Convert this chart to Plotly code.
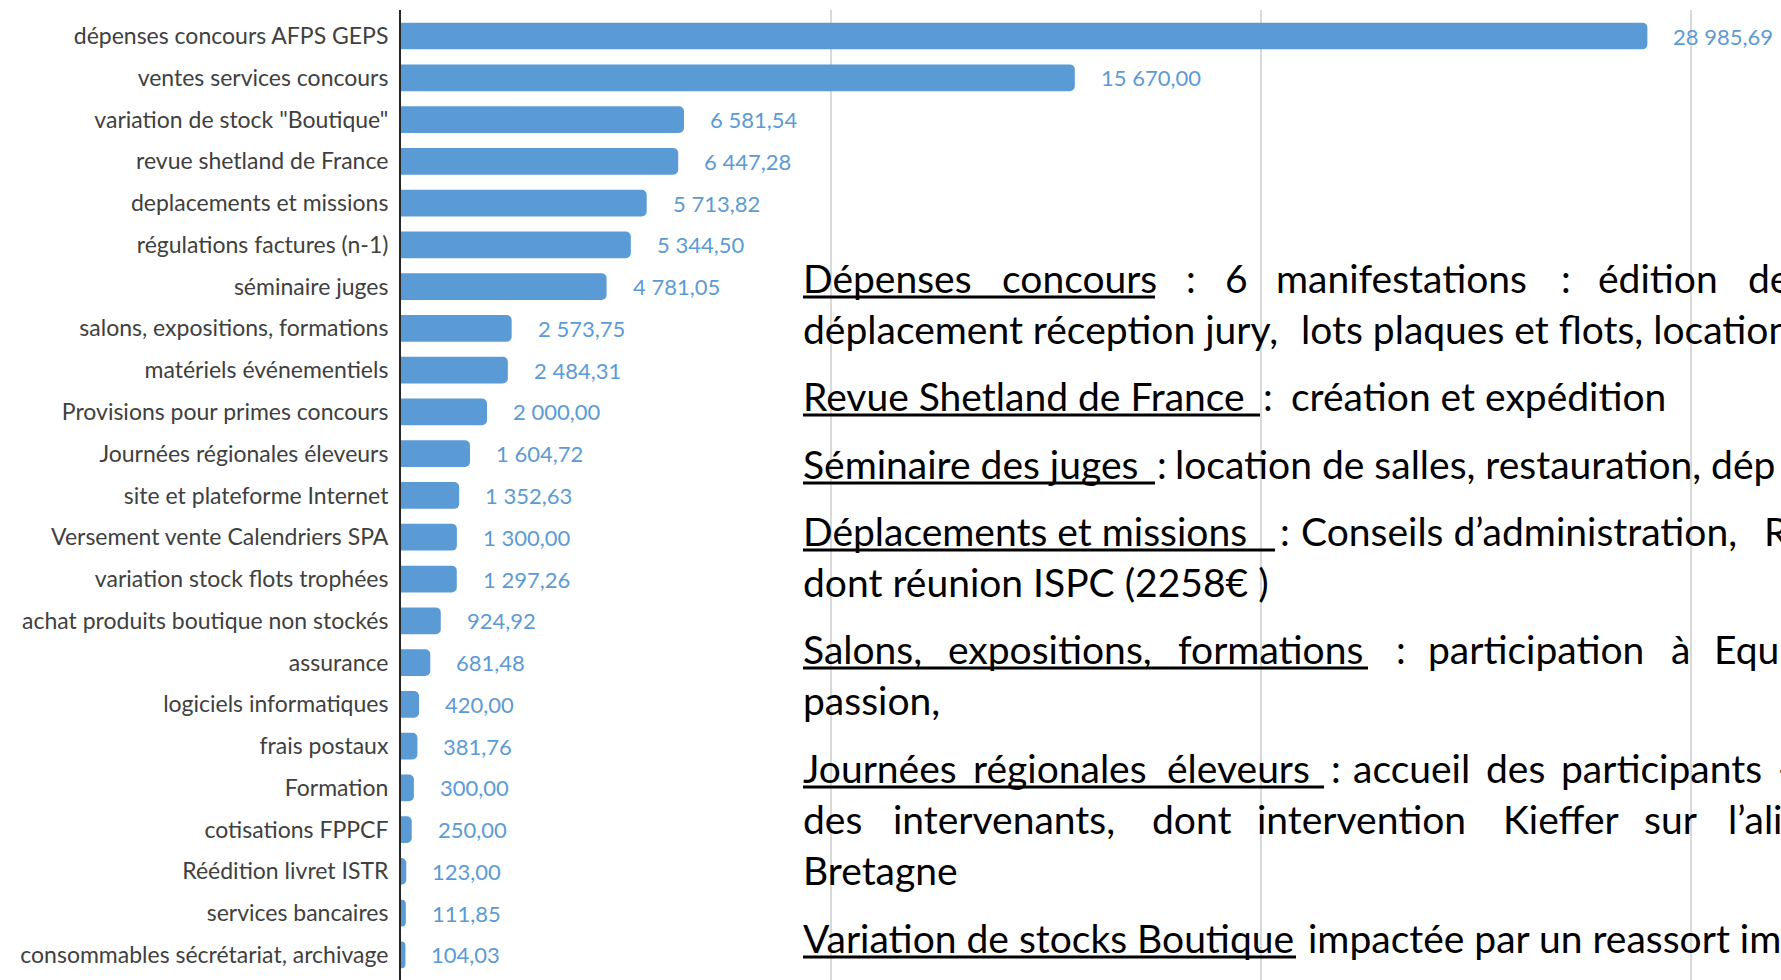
import plotly.graph_objects as go

# ---------------- data ----------------
categories = [
    "dépenses concours AFPS GEPS",
    "ventes services concours",
    'variation de stock "Boutique"',
    "revue shetland de France",
    "deplacements et missions",
    "régulations factures (n-1)",
    "séminaire juges",
    "salons, expositions, formations",
    "matériels événementiels",
    "Provisions pour primes concours",
    "Journées régionales éleveurs",
    "site et plateforme Internet",
    "Versement vente Calendriers SPA",
    "variation stock flots trophées",
    "achat produits boutique non stockés",
    "assurance",
    "logiciels informatiques",
    "frais postaux",
    "Formation",
    "cotisations FPPCF",
    "Réédition livret ISTR",
    "services bancaires",
    "consommables sécrétariat, archivage",
]
values = [
    28985.69, 15670.00, 6581.54, 6447.28, 5713.82, 5344.50, 4781.05,
    2573.75, 2484.31, 2000.00, 1604.72, 1352.63, 1300.00, 1297.26,
    924.92, 681.48, 420.00, 381.76, 300.00, 250.00, 123.00, 111.85, 104.03,
]
grid_ticks = [10000, 20000, 30000]

# ---------------- layout constants ----------------
W, H = 1781, 980
ML, MR, MT, MB = 401, 0, 10, 0
PW, PH = W - ML - MR, H - MT - MB
PX_PER_UNIT = 0.0430
X_MAX = PW / PX_PER_UNIT
ROW = 41.77
FIRST_CENTER = 36
Y_TOP = -(FIRST_CENTER - MT) / ROW
Y_BOT = Y_TOP + PH / ROW

BAR_COLOR = "#5B9BD5"
VAL_COLOR = "#5B9BD5"
CAT_COLOR = "#404040"
FONT = "Lato"
FS_BODY = 39
FS_CAT = 23
FS_VAL = 22


def px(x):
    return (x - ML) / PW


def py(y):
    return 1 - (y - MT) / PH


def fr(v):
    return f"{v:,.2f}".replace(",", " ").replace(".", ",")


fig = go.Figure(
    go.Bar(
        x=values,
        y=categories,
        orientation="h",
        marker=dict(color=BAR_COLOR, cornerradius=5, line=dict(width=0)),
        hoverinfo="skip",
    )
)

annotations = []
for c, v in zip(categories, values):
    annotations.append(dict(
        x=v, y=c, xref="x", yref="y", text=fr(v), showarrow=False,
        xanchor="left", yanchor="middle", xshift=24,
        font=dict(family=FONT, size=FS_VAL, color=VAL_COLOR),
    ))

# ---------------- explanatory text (right side) ----------------
# each line: baseline y (px), list of (text, x start px)
note_lines = [
    (292, [("Dépenses", 803), ("concours", 1002), (":", 1186), ("6", 1225),
           ("manifestations", 1276), (":", 1561), ("édition", 1598), ("de", 1748)]),
    (343, [("déplacement réception jury,", 803), ("lots plaques et flots, location", 1301)]),
    (410, [("Revue Shetland de France", 803), (":", 1263), ("création et expédition", 1291)]),
    (478, [("Séminaire des juges", 803), (":", 1157),
           ("location de salles, restauration, dép", 1175)]),
    (545, [("Déplacements et missions", 803), (":", 1280),
           ("Conseils d’administration,", 1301), ("R", 1764)]),
    (596, [("dont réunion ISPC (2258€ )", 803)]),
    (663, [("Salons,", 803), ("expositions,", 948), ("formations", 1178), (":", 1396),
           ("participation", 1428), ("à", 1671), ("Equ", 1714)]),
    (714, [("passion,", 803)]),
    (782, [("Journées", 803), ("régionales", 973), ("éleveurs", 1167), (":", 1331),
           ("accueil", 1353), ("des", 1486), ("participants", 1561), ("-", 1778)]),
    (833, [("des", 803), ("intervenants,", 893), ("dont", 1152), ("intervention", 1257),
           ("Kieffer", 1503), ("sur", 1644), ("l’ali", 1728)]),
    (884, [("Bretagne", 803)]),
    (952, [("Variation de stocks Boutique", 803), ("impactée par un reassort im", 1308)]),
]
underlines = [(292, 803, 1155), (410, 803, 1260), (478, 803, 1155), (545, 803, 1275),
              (663, 803, 1368), (782, 803, 1324), (952, 803, 1296)]

for base, segs in note_lines:
    yc = base - 0.36 * FS_BODY
    for txt, x0 in segs:
        annotations.append(dict(
            x=px(x0), y=py(yc), xref="paper", yref="paper", text=txt,
            showarrow=False, xanchor="left", yanchor="middle", borderpad=0,
            xshift=-1,
            font=dict(family=FONT, size=FS_BODY, color="#000000"),
        ))

shapes = []
for base, x0, x1 in underlines:
    shapes.append(dict(type="line", xref="paper", yref="paper",
                       x0=px(x0), x1=px(x1), y0=py(base + 5), y1=py(base + 5),
                       line=dict(color="#000000", width=3)))

fig.update_layout(
    width=W, height=H,
    margin=dict(l=ML, r=MR, t=MT, b=MB, pad=0),
    paper_bgcolor="white", plot_bgcolor="white",
    showlegend=False,
    bargap=0.36,
    annotations=annotations,
    shapes=shapes,
    xaxis=dict(
        range=[0, X_MAX], tickvals=grid_ticks, showticklabels=False,
        showgrid=True, gridcolor="#D9D9D9", gridwidth=2,
        zeroline=False, showline=False, fixedrange=True,
    ),
    yaxis=dict(
        type="category", categoryorder="array", categoryarray=categories,
        range=[Y_BOT, Y_TOP], showgrid=False, zeroline=False,
        showline=True, linecolor="#262626", linewidth=2,
        ticks="", ticklabelstandoff=6,
        tickfont=dict(family=FONT, size=FS_CAT, color=CAT_COLOR),
        fixedrange=True,
    ),
)

fig.write_html(
    "out.html",
    config={"displayModeBar": False, "staticPlot": True},
    post_script="document.body.style.margin='0';document.body.style.overflow='hidden';",
)
